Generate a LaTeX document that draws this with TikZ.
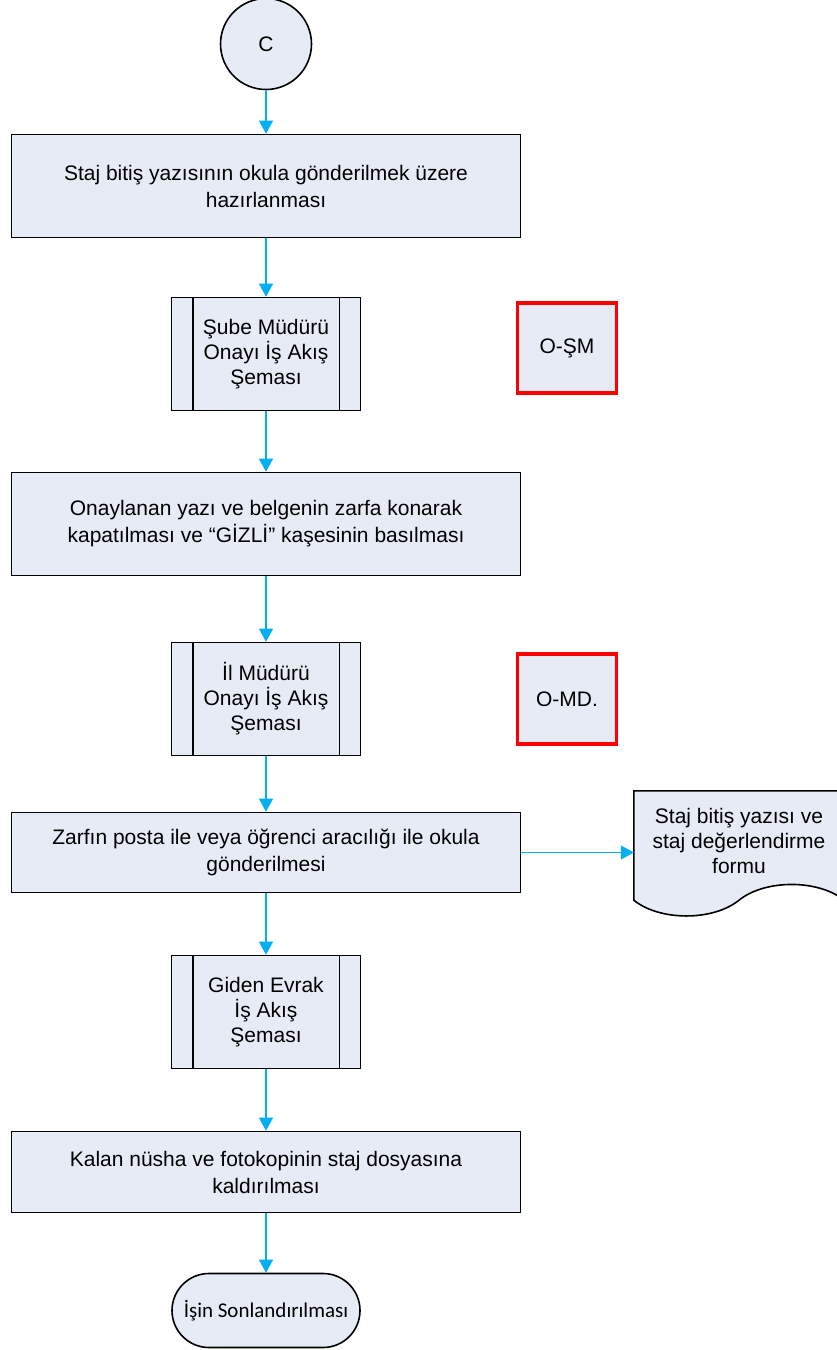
\documentclass[tikz,border=0pt]{standalone}
\usepackage{fontspec}
\setmainfont{Liberation Sans}
\newfontfamily\endfont{Carlito}
\usepackage{tikz}
\usetikzlibrary{arrows.meta,shapes,calc,positioning}
\definecolor{boxfill}{RGB}{230,235,246}
\definecolor{flowblue}{RGB}{0,176,240}
\tikzstyle{flow}     =[draw=flowblue, line width=1.1pt,
                       -{Triangle[width=14pt,length=13pt]}]
\tikzstyle{base}     =[draw, fill=boxfill, line width=1.6pt, align=center,
                       inner sep=0pt, font=\fontsize{21}{27}\selectfont]
\tikzstyle{process}  =[base, rectangle, minimum width=509pt,
                       minimum height=103pt]
\tikzstyle{subproc}  =[base, rectangle, minimum width=189pt,
                       minimum height=113pt, font=\fontsize{21}{25}\selectfont]
\tikzstyle{control}  =[base, draw=red, line width=3.2pt,
                       minimum width=99pt, minimum height=90pt]
\tikzstyle{terminal} =[base, rounded corners=37pt, minimum width=188pt,
                       minimum height=74pt, font=\endfont\fontsize{21}{25}\selectfont]
\tikzstyle{connector}=[base, circle, minimum size=91pt]
\tikzstyle{docshape} =[inner sep=0pt, minimum width=210pt, minimum height=109pt]
\tikzstyle{doctext}  =[inner sep=0pt, align=center,
                       font=\fontsize{21}{25}\selectfont]

\begin{document}
\begin{tikzpicture}[x=1pt, y=1pt, node distance=1cm, on grid]
    \useasboundingbox (0,0) rectangle (836,-1350);
    \node (c)  [connector] at (266,-44) {C};
    \node (b1) [process, below=142pt of c]
        {Staj bitiş yazısının okula gönderilmek üzere\\hazırlanması};
    \node (s1) [subproc, below=168pt of b1] {Şube Müdürü\\Onayı İş Akış\\Şeması};
    \node (o1) [control] at (567,-348) {O-ŞM};
    \node (b2) [process, below=170pt of s1]
        {Onaylanan yazı ve belgenin zarfa konarak\\kapatılması ve “GİZLİ” kaşesinin basılması};
    \node (s2) [subproc, below=175pt of b2] {İl Müdürü\\Onayı İş Akış\\Şeması};
    \node (o2) [control, right=301pt of s2] {O-MD.};
    \node (b3) [process, minimum height=80pt, below=153.5pt of s2]
        {Zarfın posta ile veya öğrenci aracılığı ile okula\\gönderilmesi};
    \node (d)  [docshape] at (739,-845.5) {};
    \node (s3) [subproc, below=159.5pt of b3] {Giden Evrak\\İş Akış\\Şeması};
    \node (b4) [process, minimum height=81pt, below=160pt of s3]
        {Kalan nüsha ve fotokopinin staj dosyasına\\kaldırılması};
    \node (e)  [terminal, below=138.5pt of b4] {İşin Sonlandırılması};

    % document outline, then its text
    \draw[line width=1.6pt, fill=boxfill] (d.north west) -- (d.north east)
        -- (d.south east) .. controls +(-26,21) and +(26,21) .. (d.south)
        .. controls +(-26,-21) and +(26,-21) .. (d.south west) -- cycle;
    \node (dt) [doctext] at ($(d)+(0,5)$)
        {Staj bitiş yazısı ve\\staj değerlendirme\\formu};

    % side bars of the sub-process boxes
    \draw[line width=1.6pt] ([xshift=22pt]s1.north west) -- ([xshift=22pt]s1.south west);
    \draw[line width=1.6pt] ([xshift=-22pt]s1.north east) -- ([xshift=-22pt]s1.south east);
    \draw[line width=1.6pt] ([xshift=22pt]s2.north west) -- ([xshift=22pt]s2.south west);
    \draw[line width=1.6pt] ([xshift=-22pt]s2.north east) -- ([xshift=-22pt]s2.south east);
    \draw[line width=1.6pt] ([xshift=22pt]s3.north west) -- ([xshift=22pt]s3.south west);
    \draw[line width=1.6pt] ([xshift=-22pt]s3.north east) -- ([xshift=-22pt]s3.south east);

    \draw[flow] (c) -- (b1);
    \draw[flow] (b1) -- (s1);
    \draw[flow] (s1) -- (b2);
    \draw[flow] (b2) -- (s2);
    \draw[flow] (s2) -- (b3);
    \draw[flow] (b3) -- (s3);
    \draw[flow] (s3) -- (b4);
    \draw[flow] (b4) -- (e);
    \draw[flow] (b3.east) -- (b3.east -| d.west);
\end{tikzpicture}
\end{document}
